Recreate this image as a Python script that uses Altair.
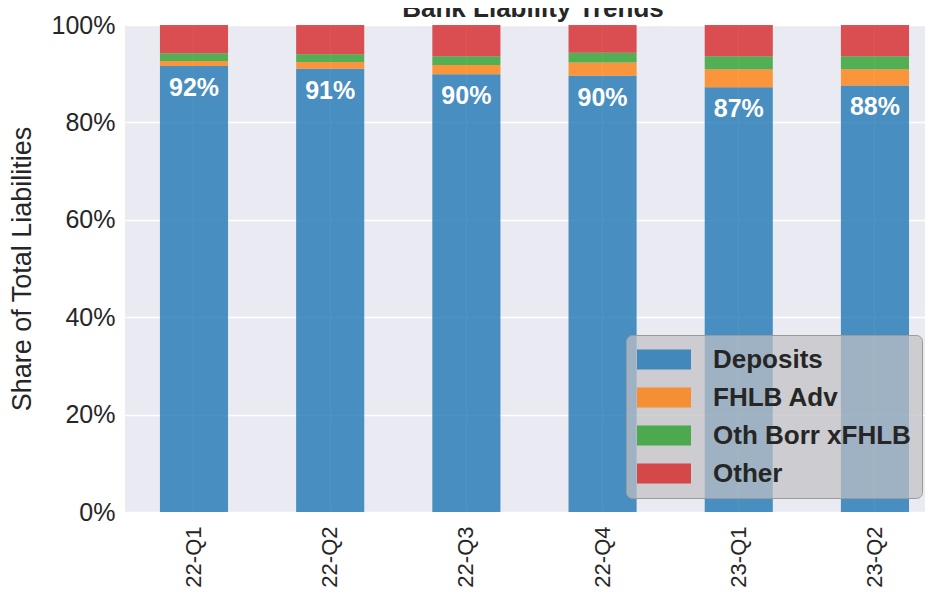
import altair as alt
import pandas as pd

title_text = ["Bank Liability Trends"]
quarters = ["22-Q1", "22-Q2", "22-Q3", "22-Q4", "23-Q1", "23-Q2"]
series = ["Deposits", "FHLB Adv", "Oth Borr xFHLB", "Other"]
deposits = [91.6, 91.0, 89.9, 89.6, 87.2, 87.6]
fhlb_adv = [1.0, 1.4, 1.9, 2.7, 3.7, 3.3]
oth_borr = [1.6, 1.6, 1.8, 2.0, 2.7, 2.7]
other = [5.8, 6.0, 6.4, 5.7, 6.4, 6.4]
colors = ["#1f77b4", "#ff7f0e", "#2ca02c", "#d62728"]

rows = []
for s_i, (name, vals) in enumerate(zip(series, [deposits, fhlb_adv, oth_borr, other])):
    for q, v in zip(quarters, vals):
        rows.append({"quarter": q, "series": name, "share": v / 100.0, "idx": s_i})
df = pd.DataFrame(rows)

FONT = "Liberation Sans"
TXT = "#262626"

base = alt.Chart(df)

xscale = alt.Scale(paddingInner=0.5, paddingOuter=0.187, align=0.686)

bars = base.mark_bar(opacity=0.8).encode(
    x=alt.X(
        "quarter:N",
        sort=quarters,
        title=None,
        scale=xscale,
        axis=alt.Axis(
            labelAngle=270, labelAlign="right", labelBaseline="middle",
            labelFontSize=22, labelFont=FONT, labelColor=TXT, labelPadding=14,
            ticks=False, domain=False, grid=True, gridColor="white", gridWidth=1.5,
            bandPosition=0.5,
        ),
    ),
    y=alt.Y(
        "share:Q",
        stack="zero",
        scale=alt.Scale(domain=[0, 1], nice=False),
        axis=alt.Axis(
            format=".0%", values=[0, 0.2, 0.4, 0.6, 0.8, 1.0],
            labelFontSize=25, labelFont=FONT, labelColor=TXT, labelPadding=10,
            ticks=False, domain=False, grid=True, gridColor="white", gridWidth=1.5,
            title="Share of Total Liabilities", titleFontSize=27, titleFont=FONT,
            titleFontWeight="normal", titleColor=TXT, titleAngle=270,
            titleBaseline="middle", titleX=-103, titleY=243.5, titleAlign="center",
        ),
    ),
    color=alt.Color(
        "series:N",
        sort=series,
        scale=alt.Scale(domain=series, range=colors),
        legend=alt.Legend(
            title=None, orient="none", legendX=501, legendY=310,
            fillColor="rgba(192,192,196,0.72)", strokeColor="#9a9a9a",
            cornerRadius=6, padding=11,
            labelFontSize=26, labelFont=FONT, labelFontWeight="bold", labelColor=TXT,
            labelLimit=400,
            labelOffset=49, symbolType="M-1,-0.74H3V0.74H-1Z", symbolSize=729,
            symbolOpacity=0.8, symbolStrokeWidth=0, rowPadding=11,
        ),
    ),
    order=alt.Order("idx:Q"),
)

labels = base.transform_filter(alt.datum.series == "Deposits").mark_text(
    baseline="top", dy=10, color="white", fontSize=25, fontWeight="bold", font=FONT
).encode(
    x=alt.X("quarter:N", sort=quarters, scale=xscale),
    y=alt.Y("share:Q"),
    text=alt.Text("share:Q", format=".0%"),
)

title_mark = alt.Chart(pd.DataFrame({"t": title_text})).mark_text(
    baseline="alphabetic", align="center", fontSize=26, fontWeight="bold",
    font=FONT, color=TXT,
).encode(
    text="t:N",
    x=alt.value(408),
    y=alt.value(-8),
)

chart = alt.layer(bars, labels, title_mark).properties(
    width=800,
    height=487,
    autosize=alt.AutoSizeParams(type="none"),
    padding={"left": 117, "top": 17, "right": 0, "bottom": 76},
    background="white",
).configure_view(fill="#EAEAF2", strokeWidth=0)

chart.save("out.html", embed_options={"renderer": "svg", "actions": False})
